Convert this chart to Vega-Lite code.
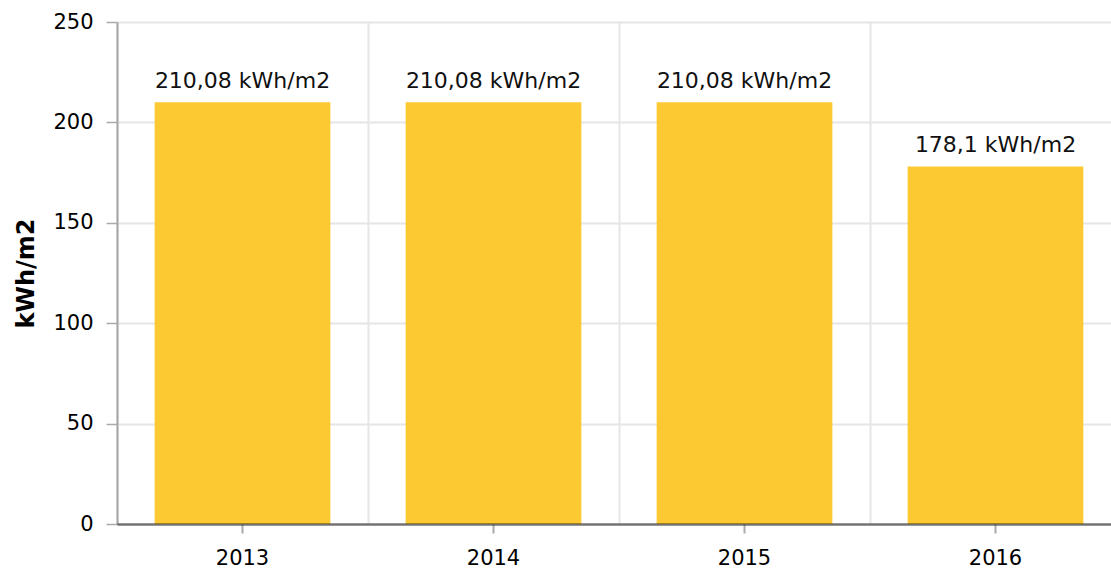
{
  "$schema": "https://vega.github.io/schema/vega-lite/v6.json",
  "width": 1004,
  "height": 502,
  "autosize": "none",
  "padding": {"left": 117, "top": 22, "right": 0, "bottom": 47},
  "background": "white",
  "config": {"view": {"stroke": null}, "font": "DejaVu Sans"},
  "data": {
    "values": [
      {"year": "2013", "value": 210.08, "label": "210,08 kWh/m2"},
      {"year": "2014", "value": 210.08, "label": "210,08 kWh/m2"},
      {"year": "2015", "value": 210.08, "label": "210,08 kWh/m2"},
      {"year": "2016", "value": 178.1, "label": "178,1 kWh/m2"}
    ]
  },
  "resolve": {"axis": {"x": "independent"}},
  "layer": [
    {
      "mark": {"type": "bar", "color": "#fdc932"},
      "encoding": {
        "x": {
          "field": "year", "type": "nominal",
          "scale": {"paddingInner": 0.3, "paddingOuter": 0.15},
          "axis": {"orient": "bottom", "title": null, "labels": false, "ticks": false, "domain": false, "grid": true, "bandPosition": -0.2142857, "gridColor": "#e6e6e6", "gridWidth": 2, "zindex": 0}
        },
        "y": {
          "field": "value", "type": "quantitative",
          "scale": {"domain": [0, 250], "nice": false},
          "axis": {"title": "kWh/m2", "values": [0, 50, 100, 150, 200, 250], "grid": true, "gridColor": "#e5e5e5", "gridWidth": 2, "domainColor": "#a6a6a6", "domainWidth": 2, "tickColor": "#aaa", "tickSize": 11, "tickWidth": 1.5, "labelPadding": 13, "labelFontSize": 21, "labelColor": "#000", "titleFontSize": 24, "titleFontWeight": "bold", "titleColor": "#000", "titlePadding": 14}
        }
      }
    },
    {
      "mark": {"type": "text", "baseline": "alphabetic", "dy": -14, "fontSize": 22, "color": "#111"},
      "encoding": {
        "x": {
          "field": "year", "type": "nominal",
          "axis": {"orient": "bottom", "title": null, "labelAngle": 0, "grid": false, "domainColor": "#000", "domainOpacity": 0.5, "domainWidth": 2.5, "tickColor": "#aaa", "tickSize": 9, "tickWidth": 2, "labelFontSize": 21, "labelPadding": 14, "labelColor": "#000", "zindex": 1}
        },
        "y": {"field": "value", "type": "quantitative"},
        "text": {"field": "label"}
      }
    }
  ]
}
